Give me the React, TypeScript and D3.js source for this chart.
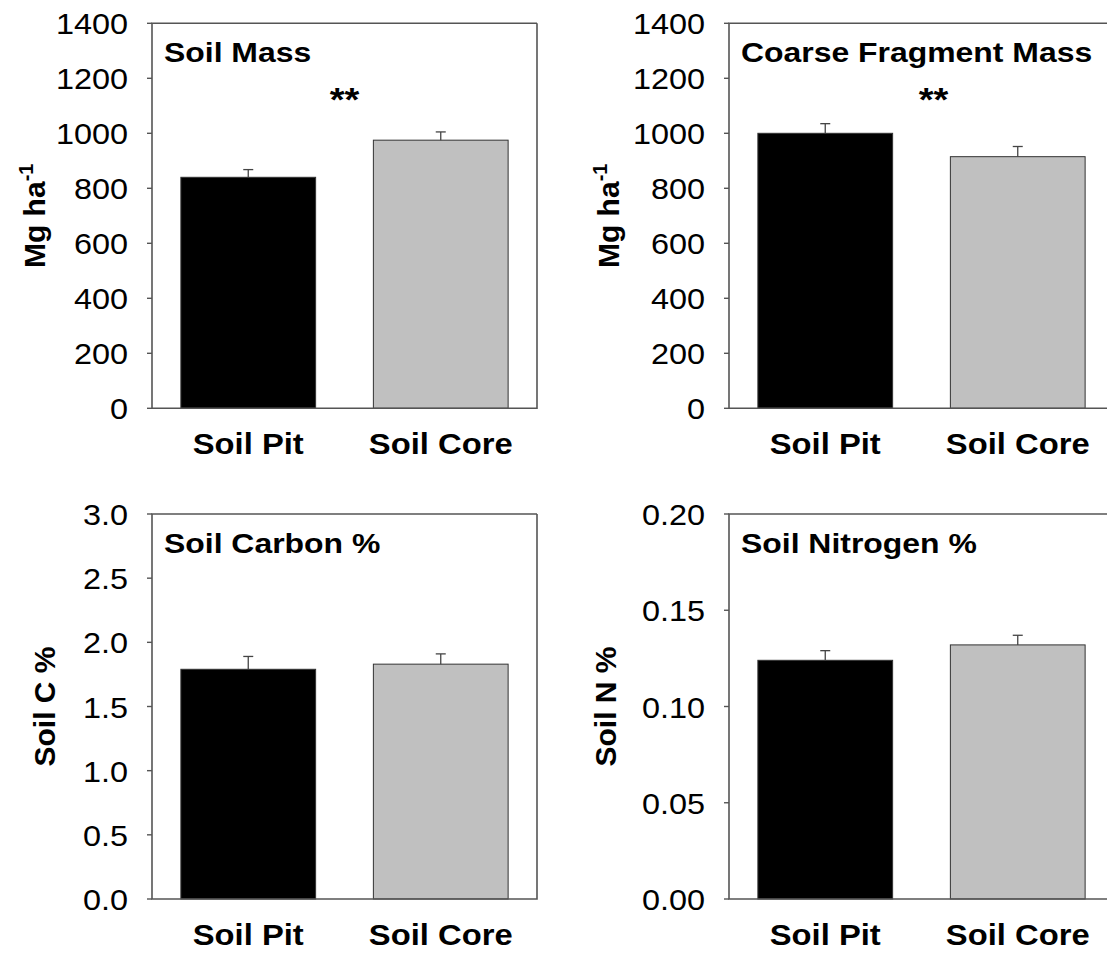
import React from "react";
import * as d3 from "d3";

const categories = ["Soil Pit", "Soil Core"];
const barColors = ["#000000", "#c0c0c0"];

const soilMass = [840, 975];
const soilMassErr = [28, 30];
const coarseMass = [1000, 915];
const coarseMassErr = [35, 37];
const soilC = [1.79, 1.83];
const soilCErr = [0.1, 0.08];
const soilN = [0.124, 0.132];
const soilNErr = [0.005, 0.005];

const massTicks = [0, 200, 400, 600, 800, 1000, 1200, 1400];
const cTicks = [0, 0.5, 1.0, 1.5, 2.0, 2.5, 3.0];
const nTicks = [0, 0.05, 0.1, 0.15, 0.2];

// where the "**" sits, in data units
const sigLevel = 1130;

const W = 1107;
const H = 954;
const PW = 385;
const PH = 385;
const FONT = "'Liberation Sans', Arial, Helvetica, sans-serif";

// the source figure is a bit stretched sideways, so text gets an x scale
const STxt = ({ x, y, anchor = "start", size = 28, sx = 1.12, bold = false, children }: any) => (
  <text
    transform={`translate(${x},${y}) scale(${sx},1)`}
    textAnchor={anchor}
    fontSize={size}
    fontWeight={bold ? "bold" : "normal"}
    fontFamily={FONT}
    fill="#000"
  >
    {children}
  </text>
);

const Panel = ({ left, top, values, errors, ticks, fmt, title, ylabel, ylabelX, sig, sigDx = 0 }: any) => {
  const x = d3.scaleBand().domain(categories).range([left, left + PW]).paddingInner(0.3).paddingOuter(0.15);
  const y = d3.scaleLinear().domain([ticks[0], ticks[ticks.length - 1]]).range([top + PH, top]);
  const bottom = top + PH;
  const right = Math.min(left + PW, W + 2);

  return (
    <g>
      {/* bars */}
      {categories.map((c, i) => (
        <rect
          key={c}
          x={x(c)}
          y={y(values[i])}
          width={x.bandwidth()}
          height={bottom - y(values[i])}
          fill={barColors[i]}
          stroke="#333"
          strokeWidth={1}
        />
      ))}
      {/* error bars, upper only */}
      {categories.map((c, i) => {
        const cx = x(c)! + x.bandwidth() / 2;
        const y0 = y(values[i]);
        const y1 = y(values[i] + errors[i]);
        return (
          <g key={c + "e"} stroke="#444" strokeWidth={1.3}>
            <line x1={cx} x2={cx} y1={y0} y2={y1} />
            <line x1={cx - 5} x2={cx + 5} y1={y1} y2={y1} />
          </g>
        );
      })}
      {/* frame */}
      <path
        d={`M${right},${top}H${left}V${bottom}H${right}${left + PW <= W ? `V${top}` : ""}`}
        fill="none"
        stroke="#555"
        strokeWidth={1.6}
      />
      {/* y ticks */}
      {ticks.map((t: number) => (
        <g key={t}>
          <line x1={left - 5} x2={left} y1={y(t)} y2={y(t)} stroke="#555" strokeWidth={1.4} />
          <STxt x={left - 24} y={y(t) + 11} anchor="end" size={30} sx={1.08}>
            {fmt(t)}
          </STxt>
        </g>
      ))}
      {/* category labels */}
      {categories.map((c) => (
        <STxt key={c + "l"} x={x(c)! + x.bandwidth() / 2} y={bottom + 46} anchor="middle" size={29} sx={1.13} bold>
          {c}
        </STxt>
      ))}
      <STxt x={left + 12} y={top + 39} sx={1.14} bold>
        {title}
      </STxt>
      {sig && (
        <STxt x={left + PW / 2 + sigDx} y={y(sigLevel) + 13} anchor="middle" size={34} bold>
          **
        </STxt>
      )}
      <text
        transform={`translate(${ylabelX},${top + PH / 2}) rotate(-90)`}
        textAnchor="middle"
        fontSize={30}
        fontWeight="bold"
        fontFamily={FONT}
      >
        {ylabel}
      </text>
    </g>
  );
};

const mgLabel = (
  <>
    <tspan>Mg ha</tspan>
    <tspan fontSize={20} dy={-12}>
      -1
    </tspan>
  </>
);

export default function App() {
  const topY = 23.3;
  const botY = 514;
  return (
    <>
      <style>{`body{margin:0;background:#fff}`}</style>
      <svg width={W} height={H} style={{ display: "block" }}>
        <rect width={W} height={H} fill="#fff" />
        <Panel
          left={152}
          top={topY}
          values={soilMass}
          errors={soilMassErr}
          ticks={massTicks}
          fmt={d3.format("d")}
          title="Soil Mass"
          ylabel={mgLabel}
          ylabelX={45}
          sig
        />
        <Panel
          left={729}
          top={topY}
          values={coarseMass}
          errors={coarseMassErr}
          ticks={massTicks}
          fmt={d3.format("d")}
          title="Coarse Fragment Mass"
          ylabel={mgLabel}
          ylabelX={619}
          sig
          sigDx={12}
        />
        <Panel
          left={152}
          top={botY}
          values={soilC}
          errors={soilCErr}
          ticks={cTicks}
          fmt={d3.format(".1f")}
          title="Soil Carbon %"
          ylabel="Soil C %"
          ylabelX={55}
        />
        <Panel
          left={729}
          top={botY}
          values={soilN}
          errors={soilNErr}
          ticks={nTicks}
          fmt={d3.format(".2f")}
          title="Soil Nitrogen %"
          ylabel="Soil N %"
          ylabelX={616}
        />
      </svg>
    </>
  );
}
